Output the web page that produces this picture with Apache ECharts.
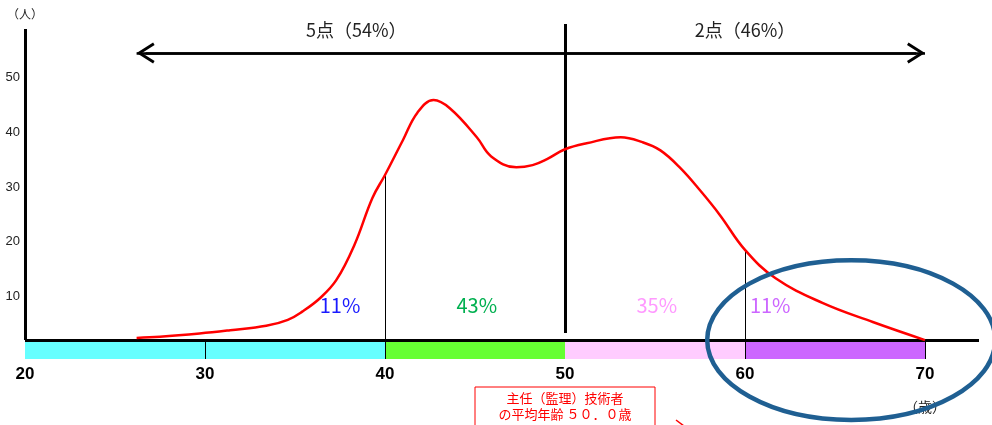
<!DOCTYPE html>
<html>
<head>
<meta charset="utf-8">
<script src="https://cdn.jsdelivr.net/npm/echarts@6/dist/echarts.min.js"></script>
<style>
  html, body { margin: 0; padding: 0; background: #fff; }
  #chart { width: 992px; height: 425px; }
</style>
</head>
<body>
<div id="chart"></div>
<script>
// Age distribution of chief (supervising) engineers: age (years) vs persons
const ages = [26.2, 27.5, 29.7, 31.4, 33.4, 34.6, 35.4, 36.4, 37.3, 38.3, 39.3, 40,
  41, 41.8, 42.7, 43.6, 45.1, 45.9, 47.3, 48.2, 49.0, 50,
  51.2, 53.1, 54.3, 55.3, 56.4, 57.5, 58.6, 60, 61.7, 64.3, 67.1, 70];
const persons = [2.4, 2.6, 3.2, 3.8, 4.6, 5.7, 7.2, 9.7, 13.0, 19.4, 28.0, 32.2,
  38.6, 43.6, 45.9, 44.4, 39.1, 35.6, 33.6, 34.0, 35.1, 36.9,
  38.0, 39.1, 38.2, 36.7, 33.5, 29.4, 24.9, 18.5, 13.3, 8.8, 5.3, 2.0];

// Age groups along the bottom strip and their share of engineers
const groupBounds = [20, 40, 50, 60, 70];
const groupShares = ['11%', '43%', '35%', '11%'];
const stripTicks = [30, 40, 60, 70];

// Scoring bands above the chart
const pointBands = ['5点（54%）', '2点（46%）'];
const averageAge = 50.0;
const averageNote = ['主任（監理）技術者', 'の平均年齢 ５０．０歳'];

const xTickLabels = [20, 30, 40, 50, 60, 70];
const yTickLabels = [10, 20, 30, 40, 50];

const curve = ages.map((a, i) => [a, persons[i]]);
const valueAt = age => persons[ages.indexOf(age)];

const chart = echarts.init(document.getElementById('chart'));

const JP = '"Noto Sans CJK JP", "Noto Sans", sans-serif';
const chevron = 'path://M10,0 L20,16.5 L17.6,18 L10,5.4 L2.4,18 L0,16.5 Z';

const baseY = 2;        // level of the horizontal axis line
const arrowY = 54.5;    // level of the double-headed arrow
const stripColors = ['#66ffff', '#66ff33', '#ffccff', '#cc66ff'];
const shareColors = ['#1a1aff', '#00b050', '#ff99ff', '#cc66ff'];
const sharePos = [[37.5, 8.4], [45.1, 8.4], [55.1, 8.4], [61.4, 8.4]];

const option = {
  animation: false,
  backgroundColor: '#fff',
  grid: [
    { left: 25, right: 13, top: 23, bottom: 74 },
    { left: 25, right: 13, top: 341, height: 18 }
  ],
  xAxis: [
    { gridIndex: 0, type: 'value', min: 20, max: 73, show: false },
    {
      gridIndex: 1, type: 'value', min: 20, max: 73, interval: 10,
      axisLine: { show: false }, axisTick: { show: false }, splitLine: { show: false },
      axisLabel: {
        margin: 2,
        showMaxLabel: false,
        formatter: v => {
          if (xTickLabels.indexOf(v) < 0) return '';
          return v === 70 ? '{a|' + v + '}\n{u|（歳）}' : '{a|' + v + '}';
        },
        rich: {
          a: { fontSize: 17, fontWeight: 'bold', color: '#000', lineHeight: 26, fontFamily: '"Liberation Sans", Arial, sans-serif' },
          u: { fontSize: 14, color: '#222', lineHeight: 40, fontFamily: JP }
        }
      }
    }
  ],
  yAxis: [
    {
      gridIndex: 0, type: 'value', min: 0, max: 60, interval: 10,
      axisLine: { show: false }, axisTick: { show: false }, splitLine: { show: false },
      axisLabel: {
        margin: 5, color: '#222', fontSize: 13,
        fontFamily: '"Liberation Sans", Arial, sans-serif',
        formatter: v => (yTickLabels.indexOf(v) >= 0 ? String(v) : '')
      },
      name: '（人）', nameLocation: 'end', nameGap: 3,
      nameTextStyle: { color: '#222', fontSize: 12, fontFamily: JP, align: 'center' }
    },
    { gridIndex: 1, type: 'value', min: 0, max: 1, show: false }
  ],
  series: [
    {
      // axis frame, dividers and the scoring arrow
      name: 'frame', type: 'line', xAxisIndex: 0, yAxisIndex: 0, data: [], z: 6,
      markLine: {
        silent: true, symbol: 'none', label: { show: false },
        lineStyle: { color: '#000', type: 'solid', width: 3 },
        data: [
          [{ coord: [20, baseY] }, { coord: [73, baseY] }],
          [{ coord: [20, baseY] }, { coord: [20, 58.9] }],
          [{ coord: [averageAge, 3.3] }, { coord: [averageAge, 59.8] }],
          [{ coord: [40, valueAt(40)], lineStyle: { width: 1 } }, { coord: [40, baseY] }],
          [{ coord: [60, valueAt(60)], lineStyle: { width: 1 } }, { coord: [60, baseY] }],
          [{ coord: [ages[0], arrowY], lineStyle: { width: 2.5 } }, { coord: [70, arrowY] }],
          [
            { coord: [ages[0] + 0.5, arrowY], symbol: chevron, symbolSize: [21, 18], lineStyle: { width: 2.5 } },
            { coord: [70 - 0.5, arrowY], symbol: chevron, symbolSize: [21, 18] }
          ]
        ]
      },
      markPoint: {
        silent: true, symbol: 'circle', symbolSize: 1,
        itemStyle: { color: 'rgba(0,0,0,0)' },
        label: { show: true, position: 'inside', formatter: '{b}', fontFamily: JP },
        data: [
          { name: pointBands[0], coord: [38.4, 58.6], label: { fontSize: 18, color: '#222' } },
          { name: pointBands[1], coord: [60, 58.6], label: { fontSize: 18, color: '#222' } }
        ].concat(groupShares.map((s, i) => ({
          name: s, coord: sharePos[i], label: { fontSize: 20, color: shareColors[i] }
        })))
      }
    },
    {
      name: '人数', type: 'line', xAxisIndex: 0, yAxisIndex: 0,
      data: curve, smooth: 0.4, symbol: 'none', z: 5,
      lineStyle: { color: '#ff0000', width: 2.5 }
    },
    {
      // age group strip under the axis
      name: 'strip', type: 'line', xAxisIndex: 1, yAxisIndex: 1, data: [], z: 2,
      markArea: {
        silent: true,
        data: groupBounds.slice(0, -1).map((b, i) => [
          { xAxis: b, itemStyle: { color: stripColors[i] } },
          { xAxis: groupBounds[i + 1] }
        ])
      },
      markLine: {
        silent: true, symbol: 'none', label: { show: false },
        lineStyle: { color: '#000', type: 'solid', width: 1 },
        data: stripTicks.map(t => ({ xAxis: t }))
      }
    }
  ]
};

chart.setOption(option);

// Annotations placed through the axes: average-age note and the highlight ring
const mid = chart.convertToPixel({ gridIndex: 0 }, [averageAge, baseY]);
const ringC = chart.convertToPixel({ gridIndex: 0 }, [65.9, baseY]);
const ringE = chart.convertToPixel({ gridIndex: 0 }, [65.9 + 8.0, baseY + 14.6]);

chart.setOption({
  graphic: [
    {
      type: 'rect', silent: true, z: 10,
      shape: { x: mid[0] - 90, y: 387, width: 180, height: 50 },
      style: { fill: '#fff', stroke: '#ff0000', lineWidth: 1 }
    },
    {
      type: 'text', silent: true, z: 11,
      x: mid[0], y: 390,
      style: {
        text: averageNote.join('\n'), fill: '#ff0000', font: '13px ' + JP,
        align: 'center', verticalAlign: 'top', lineHeight: 16
      }
    },
    {
      type: 'line', silent: true, z: 11,
      shape: { x1: mid[0] + 111, y1: 420, x2: mid[0] + 119, y2: 426 },
      style: { stroke: '#ff0000', lineWidth: 1.5 }
    },
    {
      type: 'ellipse', silent: true, z: 12,
      shape: { cx: ringC[0], cy: ringC[1], rx: ringE[0] - ringC[0], ry: ringC[1] - ringE[1] },
      style: { fill: 'none', stroke: '#1f5f92', lineWidth: 4.5 }
    }
  ]
});
</script>
</body>
</html>
